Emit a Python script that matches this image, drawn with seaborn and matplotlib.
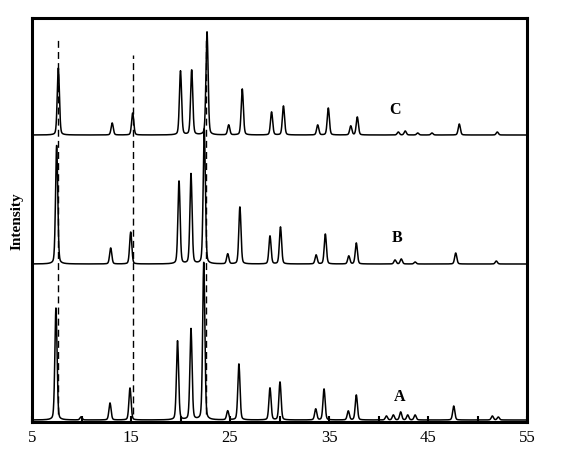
import numpy as np
import pandas as pd
import matplotlib
matplotlib.use("Agg")
import matplotlib.pyplot as plt
import seaborn as sns

# peak positions (2theta) and heights, per sample
pos_A = [7.42, 9.95, 12.88, 14.9, 19.7, 21.06, 22.35, 24.77, 25.9, 29.04, 30.05,
         33.66, 34.5, 36.95, 37.76, 40.8, 41.5, 42.24, 42.95, 43.7, 47.6, 51.5, 52.1]
hgt_A = [112, 3, 17, 32, 79, 91, 158, 9, 56, 32, 38,
         11, 31, 9, 25, 4, 5, 8, 5, 5, 14, 4, 3]

pos_B = [7.49, 12.95, 14.97, 19.85, 21.06, 22.4, 24.77, 26.0, 29.04, 30.1,
         33.7, 34.63, 37.0, 37.76, 41.67, 42.3, 43.7, 47.8, 51.9]
hgt_B = [119, 16, 32, 83, 90, 135, 10, 57, 28, 37,
         9, 30, 8, 21, 4, 5, 2, 11, 3]

pos_C = [7.66, 13.1, 15.17, 20.0, 21.13, 22.68, 24.87, 26.24, 29.2, 30.4,
         33.86, 34.93, 37.2, 37.86, 42.0, 42.7, 43.96, 45.4, 48.16, 52.0]
hgt_C = [67, 12, 22, 64, 65, 103, 10, 46, 23, 29,
         10, 27, 9, 18, 3, 4, 2, 2, 11, 3]

offsets = {"A": 0, "B": 156, "C": 285}
label_pos = {"A": (42.1, 24), "B": (41.9, 183), "C": (41.7, 311)}
ref_lines = [7.66, 15.17, 22.6]
ref_top = [0.948, 0.908, 0.95]

two_theta = np.arange(5, 55.001, 0.02)


def pattern(pos, hgt, w=0.13):
    y = np.zeros_like(two_theta)
    for p, h in zip(pos, hgt):
        d = (two_theta - p) / w
        y += h * (0.75 * np.exp(-0.5 * d ** 2 * 1.4) + 0.25 / (1 + d ** 2))
    return y


rows = []
for name, pos, hgt in [("A", pos_A, hgt_A), ("B", pos_B, hgt_B), ("C", pos_C, hgt_C)]:
    rows.append(pd.DataFrame({"2theta": two_theta,
                              "I": pattern(pos, hgt) + offsets[name],
                              "sample": name}))
df = pd.concat(rows, ignore_index=True)

sns.set_style("ticks", {"axes.edgecolor": "black", "xtick.color": "black",
                        "text.color": "black", "axes.labelcolor": "black"})
plt.rcParams["font.family"] = ["Liberation Serif", "DejaVu Serif"]

fig = plt.figure(figsize=(5.84, 4.52), dpi=100)
ax = fig.add_axes([32 / 584, 1 - 423 / 452, 495 / 584, 404 / 452])

for x, top in zip(ref_lines, ref_top):
    ax.axvline(x, ymin=0.02, ymax=top, color="black", lw=1.0, ls=(0, (5, 3)), zorder=1)

sns.lineplot(data=df, x="2theta", y="I", units="sample", estimator=None,
             color="black", lw=1.1, ax=ax, zorder=2)

for name, (x, y) in label_pos.items():
    ax.text(x, y, name, fontsize=11.5, fontweight="bold", ha="center", va="center")

ax.set_xlim(5, 55)
ax.set_ylim(-2, 402)
ax.set_xticks(np.arange(5, 56, 5))
ax.set_xticklabels([str(v) if (v - 5) % 10 == 0 else "" for v in range(5, 56, 5)])
ax.set_yticks([])
ax.tick_params(axis="x", direction="in", length=4, width=1.5, labelsize=12, pad=5)
ax.set_xlabel("")
ax.set_ylabel("Intensity", fontsize=11, fontweight="bold", labelpad=6)
for s in ax.spines.values():
    s.set_linewidth(2.2)
    s.set_color("black")
    s.set_visible(True)

fig.savefig("out.png", dpi=100)
